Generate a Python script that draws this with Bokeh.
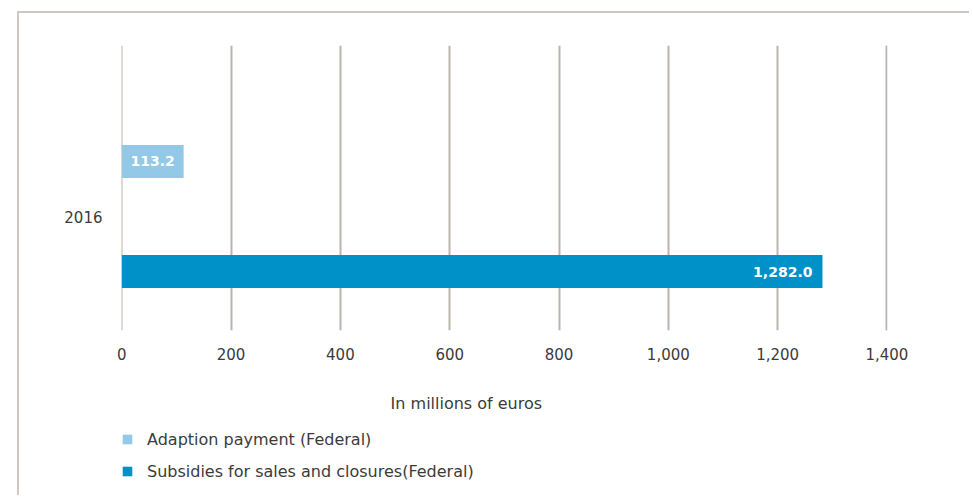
from bokeh.plotting import figure
from bokeh.layouts import column
from bokeh.models import (ColumnDataSource, Range1d, FixedTicker, Legend, LegendItem,
                          NumeralTickFormatter)
from bokeh.core.properties import value
from bokeh.embed import file_html
from bokeh.resources import INLINE

# ---- data ----
years = ["2016"]
year_pos = [0]
adaption = [113.2]
subsidies = [1282.0]
series_names = ["Adaption payment (Federal)", "Subsidies for sales and closures(Federal)"]
x_ticks = [0, 200, 400, 600, 800, 1000, 1200, 1400]
axis_title = "In millions of euros"

LIGHT = "#93c9e6"
DARK = "#0091c8"
FONT = "DejaVu Sans"
TXT = "#3b3b3b"
W = 950

src_a = ColumnDataSource(dict(y=[yp + 1 for yp in year_pos], v=adaption,
                              lx=[v / 2 for v in adaption],
                              lab=[f"{v:,.1f}" for v in adaption]))
src_s = ColumnDataSource(dict(y=[yp - 1 for yp in year_pos], v=subsidies,
                              lx=subsidies,
                              lab=[f"{v:,.1f}" for v in subsidies]))

# ---------------- main chart ----------------
p = figure(width=W, height=402, output_backend="svg", toolbar_location=None,
           x_range=Range1d(-0.5, 1401), y_range=Range1d(-2.07, 3.107),
           min_border_left=102, min_border_right=82, min_border_top=32,
           min_border_bottom=80)
p.outline_line_color = None

p.hbar(y="y", left=0, right="v", height=0.6, source=src_a,
       fill_color=LIGHT, line_color=None)
p.hbar(y="y", left=0, right="v", height=0.6, source=src_s,
       fill_color=DARK, line_color=None)

p.text(x="lx", y="y", text="lab", source=src_a, text_align="center",
       text_baseline="middle", text_color="white", text_font=value(FONT),
       text_font_size="14px", text_font_style="bold")
p.text(x="lx", y="y", text="lab", source=src_s, text_align="right",
       text_baseline="middle", text_color="white", text_font=value(FONT),
       text_font_size="14px", text_font_style="bold", x_offset=-10)

xa = p.xaxis[0]
xa.ticker = FixedTicker(ticks=x_ticks)
xa.formatter = NumeralTickFormatter(format="0,0")
xa.axis_line_color = None
xa.major_tick_line_color = None
xa.minor_tick_line_color = None
xa.major_label_standoff = 11
xa.major_label_text_font = FONT
xa.major_label_text_font_size = "15px"
xa.major_label_text_color = TXT
xa.axis_label = axis_title + "\u00a0" * 15
xa.axis_label_standoff = 31
xa.axis_label_text_font = FONT
xa.axis_label_text_font_size = "16px"
xa.axis_label_text_font_style = "normal"
xa.axis_label_text_color = TXT

ya = p.yaxis[0]
ya.ticker = FixedTicker(ticks=year_pos)
ya.major_label_overrides = {yp: y for yp, y in zip(year_pos, years)}
ya.axis_line_color = None
ya.major_tick_line_color = None
ya.minor_tick_line_color = None
ya.major_label_standoff = 13
ya.major_label_text_font = FONT
ya.major_label_text_font_size = "15px"
ya.major_label_text_color = TXT

p.ygrid.grid_line_color = None
p.xgrid.ticker = FixedTicker(ticks=x_ticks)
p.xgrid.grid_line_color = "#bbb4ac"
p.xgrid.grid_line_width = 2

# ---------------- legend strip ----------------
pl = figure(width=W, height=80, output_backend="svg", toolbar_location=None,
            x_range=Range1d(0, 1), y_range=Range1d(100, 101),
            x_axis_location=None, y_axis_location=None,
            min_border=0)
pl.outline_line_color = None
pl.grid.grid_line_color = None
la = pl.hbar(y="y", left=0, right="v", height=0.6, source=src_a,
             fill_color=LIGHT, line_color=None)
ls = pl.hbar(y="y", left=0, right="v", height=0.6, source=src_s,
             fill_color=DARK, line_color=None)

legend = Legend(items=[LegendItem(label=series_names[0], renderers=[la]),
                       LegendItem(label=series_names[1], renderers=[ls])],
                location=(0, 14), orientation="vertical")
legend.margin = 0
legend.padding = 0
legend.background_fill_alpha = 0
legend.border_line_alpha = 0
legend.label_text_font = FONT
legend.label_text_font_size = "16px"
legend.label_text_color = TXT
legend.glyph_width = 12
legend.glyph_height = 12
legend.label_standoff = 14
legend.label_height = 20
legend.spacing = 12
pl.add_layout(legend)

layout = column(p, pl, spacing=0)
layout.margin = (11, 0, 0, 17)
layout.styles = {"border-top": "2px solid #cdc8c1", "border-left": "2px solid #cdc8c1"}

open("out.html", "w").write(file_html(layout, INLINE))
